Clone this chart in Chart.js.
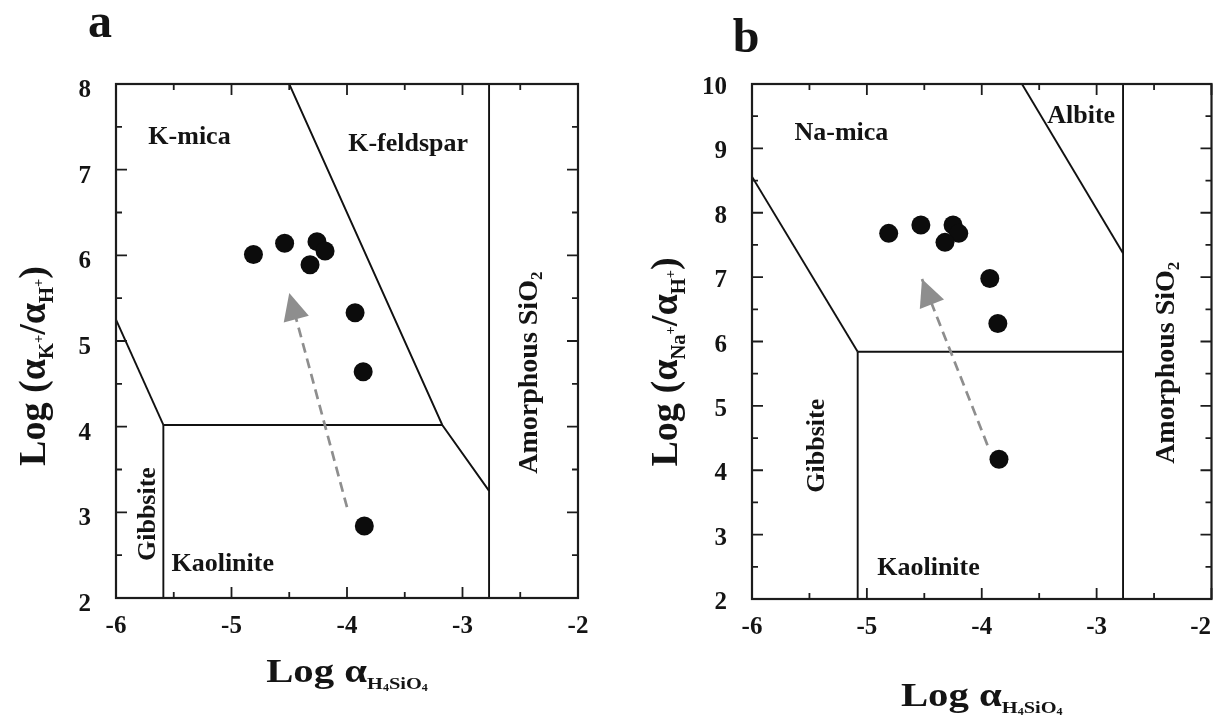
<!DOCTYPE html>
<html>
<head>
<meta charset="utf-8">
<title>Mineral stability diagrams</title>
<script src="https://cdn.jsdelivr.net/npm/chart.js@4.4.1/dist/chart.umd.min.js"></script>
<style>
  html, body { margin: 0; padding: 0; background: #fff; width: 1221px; height: 725px; overflow: hidden; }
  .panel { position: absolute; top: 0; height: 725px; }
  #wrapA { left: 0; width: 610px; }
  #wrapB { left: 610px; width: 611px; }
  canvas { display: block; }
</style>
</head>
<body>
<div class="panel" id="wrapA"><canvas id="chartA" width="610" height="725"></canvas></div>
<div class="panel" id="wrapB"><canvas id="chartB" width="611" height="725"></canvas></div>
<script>
// ---- Axis tick labels ----
const xTickLabels = ['-6', '-5', '-4', '-3', '-2'];
const aYTickLabels = ['2', '3', '4', '5', '6', '7', '8'];
const bYTickLabels = ['2', '3', '4', '5', '6', '7', '8', '9', '10'];

// ---- Panel a: K2O-Al2O3-SiO2-H2O system ----
const aSampleX = [-4.81, -4.54, -4.26, -4.19, -4.32, -3.93, -3.86, -3.85];
const aSampleY = [6.01, 6.14, 6.16, 6.05, 5.89, 5.33, 4.64, 2.84];
const aTrendX = [-4.00, -4.50];
const aTrendY = [3.06, 5.56];
const aMicaFeldsparX = [-4.50, -3.175, -2.77];
const aMicaFeldsparY = [8.00, 4.02, 3.25];
const aGibbsiteMicaX = [-6.00, -5.59];
const aGibbsiteMicaY = [5.25, 4.02];
const aKaoliniteMicaX = [-5.59, -3.175];
const aKaoliniteMicaY = [4.02, 4.02];
const aGibbsiteKaoliniteX = [-5.59, -5.59];
const aGibbsiteKaoliniteY = [2.00, 4.02];
const aAmorphousX = [-2.77, -2.77];
const aAmorphousY = [2.00, 8.00];

// ---- Panel b: Na2O-Al2O3-SiO2-H2O system ----
const bSampleX = [-4.81, -4.53, -4.25, -4.20, -4.32, -3.93, -3.86, -3.85];
const bSampleY = [7.68, 7.81, 7.81, 7.68, 7.54, 6.98, 6.28, 4.17];
const bTrendX = [-3.95, -4.52];
const bTrendY = [4.39, 6.97];
const bAlbiteMicaX = [-3.65, -2.77];
const bAlbiteMicaY = [10.00, 7.37];
const bGibbsiteMicaX = [-6.00, -5.08];
const bGibbsiteMicaY = [8.56, 5.84];
const bKaoliniteMicaX = [-5.08, -2.77];
const bKaoliniteMicaY = [5.84, 5.84];
const bGibbsiteKaoliniteX = [-5.08, -5.08];
const bGibbsiteKaoliniteY = [2.00, 5.84];
const bAmorphousX = [-2.77, -2.77];
const bAmorphousY = [2.00, 10.00];

const SERIF = '"Liberation Serif", "Times New Roman", Times, serif';
const INK = '#141414';

function zip(xs, ys) { return xs.map((x, i) => ({ x: x, y: ys[i] })); }

// Draws a row of text runs (each with own size and vertical shift) as one label.
function drawRuns(ctx, runs, x, y, o) {
  o = o || {};
  ctx.save();
  ctx.translate(x, y);
  if (o.rotate) ctx.rotate(o.rotate);
  ctx.scale(o.stretch || 1, 1);
  ctx.fillStyle = INK;
  ctx.textBaseline = 'alphabetic';
  ctx.textAlign = 'left';
  let total = 0;
  runs.forEach(r => {
    ctx.font = 'bold ' + r.size + 'px ' + SERIF;
    r.w = ctx.measureText(r.text).width;
    total += r.w;
  });
  let cx = o.align === 'center' ? -total / 2 : (o.align === 'right' ? -total : 0);
  runs.forEach(r => {
    ctx.font = 'bold ' + r.size + 'px ' + SERIF;
    ctx.fillText(r.text, cx, r.dy || 0);
    cx += r.w;
  });
  ctx.restore();
}

// Frame, inward tick marks, tick labels, region names, axis titles and arrowhead.
const panelDecor = {
  id: 'panelDecor',
  afterDatasetsDraw(chart, args, opts) {
    const ctx = chart.ctx;
    chart.data.datasets.forEach((ds, i) => {
      if (!ds.arrow) return;
      const pts = chart.getDatasetMeta(i).data;
      const p0 = pts[0], p1 = pts[pts.length - 1];
      const dx = p1.x - p0.x, dy = p1.y - p0.y;
      const len = Math.hypot(dx, dy);
      const ux = dx / len, uy = dy / len;
      const L = 27, H = 13;
      const bx = p1.x - ux * L, by = p1.y - uy * L;
      ctx.save();
      ctx.fillStyle = ds.borderColor;
      ctx.beginPath();
      ctx.moveTo(p1.x, p1.y);
      ctx.lineTo(bx - uy * H, by + ux * H);
      ctx.lineTo(bx + uy * H, by - ux * H);
      ctx.closePath();
      ctx.fill();
      ctx.restore();
    });
  },
  afterDraw(chart, args, opts) {
    const ctx = chart.ctx;
    const a = chart.chartArea;
    const xs = chart.scales.x, ys = chart.scales.y;

    // frame
    ctx.save();
    ctx.strokeStyle = '#1c1c1c';
    ctx.lineWidth = 2.2;
    ctx.strokeRect(a.left, a.top, a.right - a.left, a.bottom - a.top);

    // tick marks on all four sides
    ctx.lineWidth = 1.8;
    ctx.beginPath();
    const isMajor = v => Math.abs(v - Math.round(v)) < 1e-6;
    xs.ticks.forEach(t => {
      const px = xs.getPixelForValue(t.value);
      const l = isMajor(t.value) ? 11 : 6;
      ctx.moveTo(px, a.bottom); ctx.lineTo(px, a.bottom - l);
      ctx.moveTo(px, a.top); ctx.lineTo(px, a.top + l);
    });
    ys.ticks.forEach(t => {
      const py = ys.getPixelForValue(t.value);
      const l = isMajor(t.value) ? 11 : 6;
      ctx.moveTo(a.left, py); ctx.lineTo(a.left + l, py);
      ctx.moveTo(a.right, py); ctx.lineTo(a.right - l, py);
    });
    ctx.stroke();

    // tick labels
    ctx.fillStyle = INK;
    ctx.font = 'bold 25px ' + SERIF;
    ctx.textBaseline = 'alphabetic';
    ctx.textAlign = 'right';
    opts.yLabels.forEach(s => {
      const py = ys.getPixelForValue(Number(s));
      ctx.fillText(s, a.left - 25, py + opts.yLabelShift);
    });
    ctx.textAlign = 'center';
    xTickLabels.forEach(s => {
      let px = xs.getPixelForValue(Number(s));
      const w = ctx.measureText(s).width;
      px = Math.min(px, chart.width - 10 - w / 2);
      ctx.fillText(s, px, a.bottom + 35);
    });
    ctx.restore();

    // region names
    opts.regions.forEach(r => {
      const px = xs.getPixelForValue(r.x), py = ys.getPixelForValue(r.y);
      drawRuns(ctx, r.runs, px, py, { rotate: r.rotate ? -Math.PI / 2 : 0, align: r.align || 'left' });
    });

    // x title
    const xTitle = [
      { text: 'Log ', size: 34 }, { text: 'α', size: 34 },
      { text: 'H', size: 17, dy: 7 }, { text: '4', size: 10, dy: 9 },
      { text: 'SiO', size: 17, dy: 7 }, { text: '4', size: 10, dy: 9 }
    ];
    drawRuns(ctx, xTitle, (a.left + a.right) / 2, opts.xTitleY, { align: 'center', stretch: 1.2 });

    // y title
    const ion = opts.ion;
    const yTitle = [
      { text: 'Log (', size: 37 }, { text: 'α', size: 37 },
      { text: ion, size: 20, dy: 8 }, { text: '+', size: 14, dy: -2 },
      { text: '/', size: 37 }, { text: 'α', size: 37 },
      { text: 'H', size: 20, dy: 8 }, { text: '+', size: 14, dy: -2 },
      { text: ')', size: 37 }
    ];
    drawRuns(ctx, yTitle, opts.yTitleX, opts.yTitleY, { align: 'center', rotate: -Math.PI / 2, stretch: opts.yTitleStretch });

    // panel letter
    drawRuns(ctx, [{ text: opts.letter, size: 48 }], opts.letterX, opts.letterY, { align: 'center' });
  }
};

function makePanel(canvasId, p) {
  const W = p.width, H = 725;
  const datasets = [
    {
      label: 'Samples', data: zip(p.sampleX, p.sampleY),
      pointRadius: 9.5, pointHoverRadius: 9.5, backgroundColor: '#0c0c0c', borderWidth: 0, showLine: false
    },
    {
      label: 'Trend', data: zip(p.trendX, p.trendY), arrow: true,
      showLine: true, borderColor: '#8e8e8e', borderWidth: 2.7, borderDash: [10, 6], pointRadius: 0
    }
  ];
  p.boundaries.forEach(b => {
    datasets.push({
      label: b.name, data: zip(b.x, b.y), showLine: true,
      borderColor: '#111', borderWidth: 1.9, pointRadius: 0, fill: false
    });
  });
  const yMin = Number(p.yLabels[0]), yMax = Number(p.yLabels[p.yLabels.length - 1]);
  const hidden = {
    grid: { display: false }, border: { display: false },
    ticks: { display: false, stepSize: 0.5 }
  };
  return new Chart(document.getElementById(canvasId), {
    type: 'scatter',
    data: { datasets: datasets },
    plugins: [panelDecor],
    options: {
      responsive: false, animation: false, devicePixelRatio: 1,
      layout: { padding: { left: p.area.left - 10, right: W - p.area.right, top: p.area.top, bottom: H - p.area.bottom - 10 } },
      scales: {
        x: Object.assign({ type: 'linear', min: Number(xTickLabels[0]), max: Number(xTickLabels[xTickLabels.length - 1]),
          afterFit: s => { s.height = 10; } }, hidden),
        y: Object.assign({ type: 'linear', min: yMin, max: yMax,
          afterFit: s => { s.width = 10; } }, hidden)
      },
      plugins: {
        legend: { display: false }, tooltip: { enabled: false },
        panelDecor: {
          yLabels: p.yLabels, yLabelShift: p.yLabelShift, regions: p.regions,
          xTitleY: p.xTitleY, yTitleX: p.yTitleX, yTitleY: p.yTitleY, yTitleStretch: 1.03,
          ion: p.ion, letter: p.letter, letterX: p.letterX, letterY: p.letterY
        }
      }
    }
  });
}

const F = 26;
makePanel('chartA', {
  width: 610, area: { left: 116, right: 578, top: 84, bottom: 598 },
  sampleX: aSampleX, sampleY: aSampleY, trendX: aTrendX, trendY: aTrendY,
  boundaries: [
    { name: 'K-mica / K-feldspar', x: aMicaFeldsparX, y: aMicaFeldsparY },
    { name: 'Gibbsite / K-mica', x: aGibbsiteMicaX, y: aGibbsiteMicaY },
    { name: 'Kaolinite / K-mica', x: aKaoliniteMicaX, y: aKaoliniteMicaY },
    { name: 'Gibbsite / Kaolinite', x: aGibbsiteKaoliniteX, y: aGibbsiteKaoliniteY },
    { name: 'Amorphous SiO2', x: aAmorphousX, y: aAmorphousY }
  ],
  yLabels: aYTickLabels, yLabelShift: 13,
  regions: [
    { runs: [{ text: 'K-mica', size: F }], x: -5.72, y: 7.30 },
    { runs: [{ text: 'K-feldspar', size: F }], x: -3.99, y: 7.22 },
    { runs: [{ text: 'Kaolinite', size: F }], x: -5.52, y: 2.31 },
    { runs: [{ text: 'Gibbsite', size: F }], x: -5.66, y: 2.98, rotate: true, align: 'center' },
    { runs: [{ text: 'Amorphous SiO', size: 28 }, { text: '2', size: 17, dy: 5 }], x: -2.355, y: 4.63, rotate: true, align: 'center' }
  ],
  xTitleY: 682, yTitleX: 45, yTitleY: 366, ion: 'K',
  letter: 'a', letterX: 100, letterY: 37
});

makePanel('chartB', {
  width: 611, area: { left: 142, right: 605, top: 84, bottom: 599 },
  sampleX: bSampleX, sampleY: bSampleY, trendX: bTrendX, trendY: bTrendY,
  boundaries: [
    { name: 'Na-mica / Albite', x: bAlbiteMicaX, y: bAlbiteMicaY },
    { name: 'Gibbsite / Na-mica', x: bGibbsiteMicaX, y: bGibbsiteMicaY },
    { name: 'Kaolinite / Na-mica', x: bKaoliniteMicaX, y: bKaoliniteMicaY },
    { name: 'Gibbsite / Kaolinite', x: bGibbsiteKaoliniteX, y: bGibbsiteKaoliniteY },
    { name: 'Amorphous SiO2', x: bAmorphousX, y: bAmorphousY }
  ],
  yLabels: bYTickLabels, yLabelShift: 10,
  regions: [
    { runs: [{ text: 'Na-mica', size: F }], x: -5.63, y: 9.13 },
    { runs: [{ text: 'Albite', size: F }], x: -3.43, y: 9.39 },
    { runs: [{ text: 'Kaolinite', size: F }], x: -4.91, y: 2.38 },
    { runs: [{ text: 'Gibbsite', size: F }], x: -5.37, y: 4.38, rotate: true, align: 'center' },
    { runs: [{ text: 'Amorphous SiO', size: 28 }, { text: '2', size: 17, dy: 5 }], x: -2.33, y: 5.67, rotate: true, align: 'center' }
  ],
  xTitleY: 706, yTitleX: 67, yTitleY: 362, ion: 'Na',
  letter: 'b', letterX: 136, letterY: 52
});
</script>
</body>
</html>
